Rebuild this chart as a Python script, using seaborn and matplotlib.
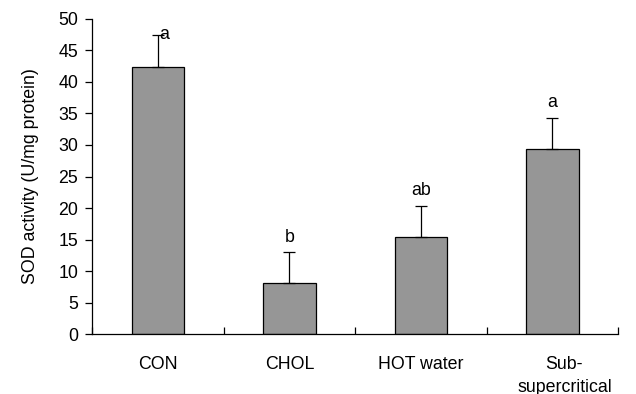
import matplotlib
matplotlib.use("Agg")
import matplotlib.pyplot as plt
import matplotlib.transforms as mtransforms
import seaborn as sns
import pandas as pd
import numpy as np

categories = ["CON", "CHOL", "HOT water", "Sub-\nsupercritical"]
means = [42.4, 8.1, 15.4, 29.4]
sds = [5.1, 4.9, 5.0, 4.9]
letters = ["a", "b", "ab", "a"]
yticks = [0, 5, 10, 15, 20, 25, 30, 35, 40, 45, 50]

sns.set_theme(style="white")
plt.rcParams['font.family'] = ['Liberation Sans', 'DejaVu Sans']
plt.rcParams['text.color'] = 'black'
plt.rcParams['axes.labelcolor'] = 'black'
plt.rcParams['xtick.color'] = 'black'
plt.rcParams['ytick.color'] = 'black'

FS = 12.8

df = pd.DataFrame({"group": categories, "sod": means})

fig = plt.figure(figsize=(6.36, 3.94), dpi=100)
ax = fig.add_axes([0.145, 0.152, 0.827, 0.800])

sns.barplot(data=df, x="group", y="sod", color="#969696", saturation=1,
            edgecolor="black", linewidth=0.9, width=0.4, errorbar=None, ax=ax)

x = np.arange(len(categories))
ax.errorbar(x, means, yerr=[np.zeros(len(sds)), sds], fmt="none",
            ecolor="black", elinewidth=0.9, capsize=4, capthick=0.9, zorder=3)

for i, (m, s, l) in enumerate(zip(means, sds, letters)):
    if i == 0:
        ax.text(i + 0.05, m + s, l, ha="center", va="center", fontsize=FS, color="black")
    else:
        ax.text(i, m + s + 2.4, l, ha="center", va="center", fontsize=FS, color="black")

ax.set_xlim(-0.5, 3.5)
ax.set_ylim(0, 50)
ax.set_yticks(yticks)
ax.set_yticklabels([str(t) for t in yticks], fontsize=FS)
ax.set_xticks(x)
ax.set_xticklabels(categories, fontsize=FS, linespacing=1.4, va="top")
ax.set_xticks(np.arange(-0.5, 4.0, 1.0), minor=True)
ax.tick_params(axis="x", which="major", bottom=True, length=0, pad=16)
ax.tick_params(axis="x", which="minor", bottom=True, direction="in", length=5, width=0.9, color="black")
ax.tick_params(axis="y", which="major", left=True, direction="out", length=5, width=0.9, color="black", pad=5)
ax.set_xlabel("")
ax.set_ylabel("SOD activity (U/mg protein)", fontsize=FS, labelpad=14)

# slight right offset of the two-line label, as in the original
lab = ax.get_xticklabels()[-1]
lab.set_transform(lab.get_transform() + mtransforms.ScaledTranslation(0.12, 0, fig.dpi_scale_trans))

for side in ["top", "right"]:
    ax.spines[side].set_visible(False)
for side in ["left", "bottom"]:
    ax.spines[side].set_color("black")
    ax.spines[side].set_linewidth(0.9)

fig.savefig("out.png", dpi=100)
